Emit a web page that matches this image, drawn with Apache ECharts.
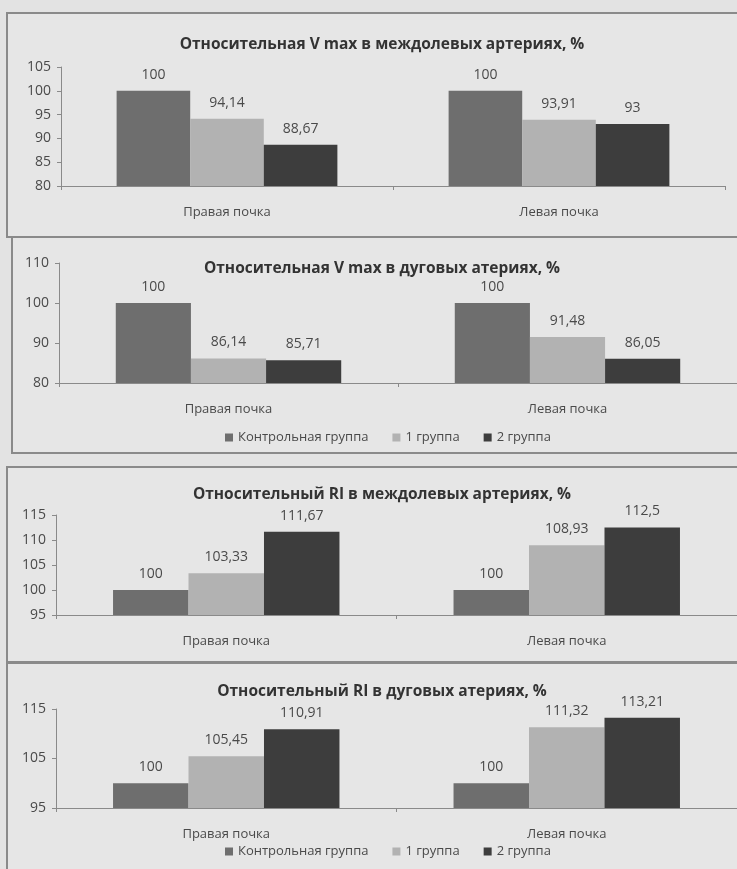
<!DOCTYPE html>
<html><head><meta charset="utf-8">
<script src="https://cdn.jsdelivr.net/npm/echarts@6/dist/echarts.min.js"></script>
<style>html,body{margin:0;padding:0;background:#e3e3e3}#c{width:737px;height:869px}</style>
</head><body><div id="c"></div>
<script>
var categories = ['Правая почка', 'Левая почка'];
var seriesNames = ['Контрольная группа', '1 группа', '2 группа'];
var titles = [
  'Относительная V max в междолевых артериях, %',
  'Относительная V max в дуговых атериях, %',
  'Относительный RI в междолевых артериях, %',
  'Относительный RI в дуговых атериях, %'
];
// values per panel: [control, group1, group2], each [right, left]
var vmaxInterlobarControl = [100, 100];
var vmaxInterlobarG1 = [94.14, 93.91];
var vmaxInterlobarG2 = [88.67, 93];
var vmaxArcuateControl = [100, 100];
var vmaxArcuateG1 = [86.14, 91.48];
var vmaxArcuateG2 = [85.71, 86.05];
var riInterlobarControl = [100, 100];
var riInterlobarG1 = [103.33, 108.93];
var riInterlobarG2 = [111.67, 112.5];
var riArcuateControl = [100, 100];
var riArcuateG1 = [105.45, 111.32];
var riArcuateG2 = [110.91, 113.21];
var yMin = [80, 80, 95, 95];
var yMax = [105, 110, 115, 115];
var yStep = [5, 10, 5, 10];

var panelData = [
  [vmaxInterlobarControl, vmaxInterlobarG1, vmaxInterlobarG2],
  [vmaxArcuateControl, vmaxArcuateG1, vmaxArcuateG2],
  [riInterlobarControl, riInterlobarG1, riInterlobarG2],
  [riArcuateControl, riArcuateG1, riArcuateG2]
];
var colors = ['#6e6e6e', '#b2b2b2', '#3d3d3d'];
var grids = [
  {left: 61, right: 12, top: 67, height: 119},
  {left: 59, right: -8, top: 263, height: 120},
  {left: 56, right: -5, top: 515, height: 100},
  {left: 56, right: -5, top: 709, height: 99}
];
var titleTops = [43, 267, 493, 690];
var font = 'Open Sans, Noto Sans, sans-serif';
var textCol = '#4a4a4a';

var option = {
  backgroundColor: '#e3e3e3',
  animation: false,
  color: colors,
  graphic: [
    {type: 'rect', shape: {x: 7, y: 13, width: 740, height: 224}, style: {fill: '#e6e6e6', stroke: '#8a8a8a', lineWidth: 2}, z: -10},
    {type: 'rect', shape: {x: 12, y: 237, width: 740, height: 216}, style: {fill: '#e6e6e6', stroke: '#8a8a8a', lineWidth: 2}, z: -10},
    {type: 'rect', shape: {x: 7, y: 467, width: 740, height: 195}, style: {fill: '#e6e6e6', stroke: '#8a8a8a', lineWidth: 2}, z: -10},
    {type: 'rect', shape: {x: 7, y: 663, width: 740, height: 220}, style: {fill: '#e6e6e6', stroke: '#8a8a8a', lineWidth: 2}, z: -10}
  ],
  title: titles.map(function (t, i) {
    return {text: t, left: 377, textAlign: 'center', top: titleTops[i] - 11,
      textStyle: {fontFamily: font, fontSize: 15.5, fontWeight: 'bold', color: '#333'}};
  }),
  legend: [
    {data: seriesNames, top: 426, left: 220, itemWidth: 8, itemHeight: 8, itemGap: 24, icon: 'rect',
      textStyle: {fontFamily: font, fontSize: 13, color: textCol}},
    {data: seriesNames, top: 840, left: 220, itemWidth: 8, itemHeight: 8, itemGap: 24, icon: 'rect',
      textStyle: {fontFamily: font, fontSize: 13, color: textCol}}
  ],
  grid: grids,
  xAxis: grids.map(function (g, i) {
    return {type: 'category', gridIndex: i, data: categories,
      axisLine: {lineStyle: {color: '#8a8a8a', width: 1}},
      axisTick: {show: true, length: 4, lineStyle: {color: '#8a8a8a'}},
      axisLabel: {margin: 20, fontFamily: font, fontSize: 13, color: textCol}};
  }),
  yAxis: grids.map(function (g, i) {
    return {type: 'value', gridIndex: i, min: yMin[i], max: yMax[i], interval: yStep[i],
      axisLine: {show: true, lineStyle: {color: '#8a8a8a'}},
      axisTick: {show: true, length: 4, lineStyle: {color: '#8a8a8a'}},
      splitLine: {show: false},
      axisLabel: {margin: 10, fontFamily: font, fontSize: 14, color: textCol}};
  }),
  series: []
};
panelData.forEach(function (vals, p) {
  vals.forEach(function (arr, s) {
    option.series.push({
      type: 'bar', name: seriesNames[s], xAxisIndex: p, yAxisIndex: p,
      data: arr, barGap: '0%', barCategoryGap: '33.5%',
      itemStyle: {color: colors[s]},
      label: {show: true, position: 'top', distance: 9, fontFamily: font, fontSize: 14, color: textCol,
        formatter: function (d) { return String(d.value).replace('.', ','); }}
    });
  });
});
var chart = echarts.init(document.getElementById('c'));
chart.setOption(option);
</script></body></html>
